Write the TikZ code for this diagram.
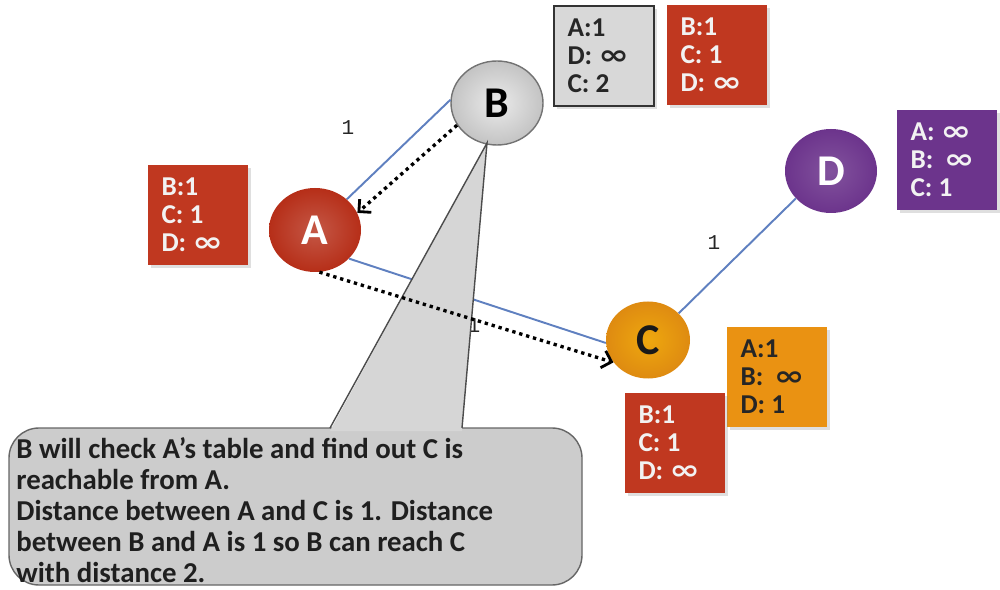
\documentclass[tikz,border=0pt]{standalone}
\usepackage{fontspec}
\setmainfont{Carlito}
\newfontfamily\symf{DejaVu Sans}
\newfontfamily\monof{Liberation Mono}
\newcommand{\inff}{{\symf\bfseries\scalebox{1.35}[1]{∞}}}
\usetikzlibrary{shapes.geometric,arrows.meta,shadows}
\definecolor{redbox}{RGB}{192,56,32}
\definecolor{redcirc}{RGB}{182,46,24}
\definecolor{orng}{RGB}{234,146,18}
\definecolor{purp}{RGB}{108,52,140}
\definecolor{edgeblue}{RGB}{95,128,192}
\definecolor{graybox}{RGB}{216,216,216}
\definecolor{callgray}{RGB}{204,204,204}
\definecolor{ptrgray}{RGB}{214,214,214}
\definecolor{bgray}{RGB}{222,222,222}
\tikzset{
  tbl/.style={rectangle, minimum width=20mm, minimum height=20mm, align=flush left,
    text width=14.6mm, inner xsep=2.7mm, inner ysep=0pt,
    font=\bfseries\fontsize{15.5}{15.8}\selectfont,
    drop shadow={opacity=0.25, shadow xshift=0.6mm, shadow yshift=-0.6mm}},
  redtbl/.style={tbl, fill=redbox, text=white!95!black},
  graytbl/.style={tbl, fill=graybox, draw=black!80, line width=0.8pt, text=black!85},
  orangetbl/.style={tbl, fill=orng, text=black!85},
  purptbl/.style={tbl, fill=purp, text=white!95!black},
  vert/.style={ellipse, minimum width=18.4mm, minimum height=16.8mm, inner sep=0pt,
    font=\bfseries\fontsize{25}{26}\selectfont},
  link/.style={draw=edgeblue, line width=1.1pt},
  msg/.style={draw=black, line width=1.9pt, dash pattern=on 1.9pt off 2.2pt,
    -{Straight Barb[length=5pt,width=10pt,line width=1.6pt]}},
  wlabel/.style={font=\monof\fontsize{12}{13}\selectfont, text=black!85},
}
\begin{document}
\begin{tikzpicture}[x=0.2mm,y=-0.2mm]
\useasboundingbox (0,0) rectangle (1000,590);
\fill[white] (0,0) rectangle (1000,590);

% vertices
\node[vert, draw=black!55, line width=0.8pt, inner color=white!92!black, outer color=bgray!88!black, text=black] (B) at (497,103) {B};
\node[vert, inner color=redcirc!80!white, outer color=redcirc, text=white] (A) at (315,230) {A};
\node[vert, minimum width=16.8mm, minimum height=15.4mm, inner color=orng!80!yellow, outer color=orng!95!black, text=black!90] (C) at (648,340) {C};
\node[vert, inner color=purp!85!white, outer color=purp, text=white] (D) at (831,171) {D};

% tables
\node[graytbl] (tB1) at (604,56) {A:1\\D: \inff\\C: 2};
\node[redtbl] (tB2) at (717,55) {B:1\\C: 1\\D: \inff};
\node[redtbl] (tA) at (198,215) {B:1\\C: 1\\D: \inff};
\node[purptbl, minimum width=19mm] (tD) at (947,160) {A: \inff\\B: \,\inff\\C: 1};
\node[orangetbl] (tC1) at (777,377) {A:1\\B: \,\inff\\D: 1};
\node[redtbl] (tC2) at (675,443) {B:1\\C: 1\\D: \inff};

% links
\draw[link] (B.176) -- (A.44);
\draw[link] (A.-40) -- (C.184);
\draw[link] (C.41) -- (D.218);
\node[wlabel] (l1) at (348,128) {1};
\node[wlabel] (l2) at (714,243) {1};
\node[wlabel] (l3) at (474,326) {1};

% callout
\coordinate (tip) at (487,143);
\filldraw[fill=callgray, draw=black!60, line width=0.8pt, rounded corners=6mm]
  (9,428) rectangle (582,585);
\fill[ptrgray] (330,431) -- (tip) -- (462,431) -- cycle;
\draw[black!70, line width=0.8pt] (330,428) -- (tip) -- (462,428);
\node[anchor=north west, align=left, inner sep=0pt, text=black!88,
  font=\bfseries\fontsize{16.4}{17.6}\selectfont] (txt) at (16,437)
  {B will check A’s table and find out C is\\reachable from A.\\Distance between A and C is 1. Distance\\between B and A is 1 so B can reach C\\with distance 2.};

% messages
\draw[msg] (B.209) -- (A.22);
\draw[msg] (A.-84) -- (C.213);
\end{tikzpicture}
\end{document}
